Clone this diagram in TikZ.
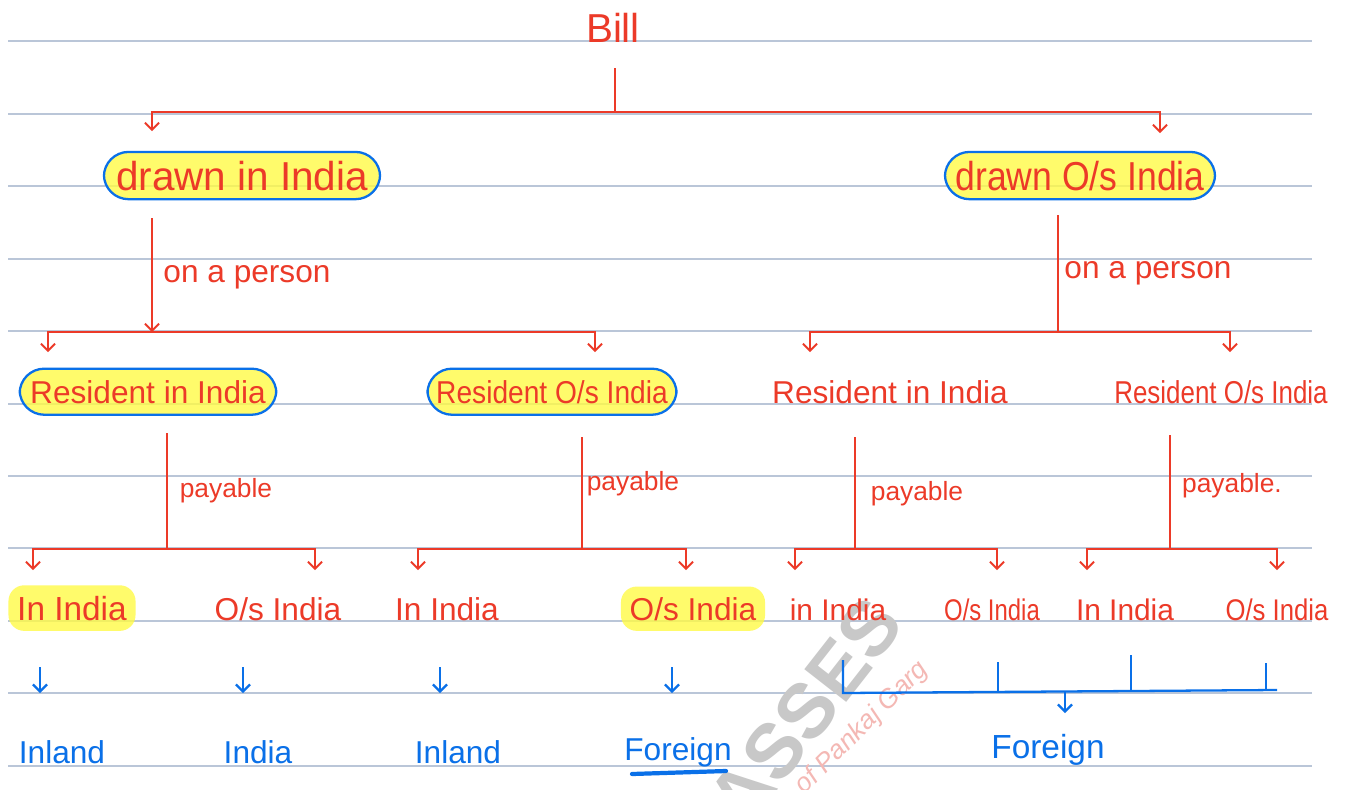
\documentclass[tikz,border=0pt]{standalone}
\usepackage{fontspec}
\setmainfont{Liberation Sans}
\usetikzlibrary{arrows.meta}
\definecolor{ink}{RGB}{236,58,40}
\definecolor{pen}{RGB}{10,112,232}
\definecolor{hl}{RGB}{255,250,70}
\definecolor{ruling}{RGB}{186,198,216}
\definecolor{wmgray}{RGB}{200,200,200}
\definecolor{wmpink}{RGB}{244,184,180}
\newcommand\fsz[1]{\fontsize{#1}{#1}\selectfont}
\newcommand\narrow[1]{\addfontfeatures{FakeStretch=#1}}

\begin{document}
\begin{tikzpicture}[x=0.02cm,y=-0.02cm,
  redtxt/.style={text=ink,inner sep=0pt,anchor=base},
  bluetxt/.style={text=pen,inner sep=0pt,anchor=base,font=\fsz{18}},
  hilite/.style={fill=hl,fill opacity=.8,text opacity=1,rounded corners=9pt,
    inner xsep=5pt,inner ysep=5pt},
  ringed/.style={hilite,draw=pen,draw opacity=1,line width=1.3pt,rounded corners=14pt},
  rline/.style={draw=ink,line width=1.1pt},
  rarr/.style={rline,-{Straight Barb[length=4pt,width=8pt]}},
  bline/.style={draw=pen,line width=1.3pt},
  barr/.style={bline,-{Straight Barb[length=4pt,width=8pt]}},
]
\useasboundingbox[fill=white] (0,0) rectangle (1347,789);

% ruled paper
\foreach \yy in {41,114,186,259,331,404,476,548,621,693,766}
  \draw[ruling,line width=0.7pt] (8,\yy) -- (1312,\yy);

% watermark
\node[text=wmgray,font=\bfseries\fsz{44},rotate=52] (wm1) at (805,712) {ASSES};
\node[text=wmpink,font=\itshape\fsz{15},rotate=45] (wm2) at (862,728) {of Pankaj Garg};

% ---- level 0 ----
\node[redtxt,font=\fsz{23}] (bill) at (613,42) {Bill};

% ---- level 1 ----
\node[redtxt,ringed,font=\fsz{23},inner xsep=7pt] (din) at (242,190) {drawn in India};
\node[redtxt,ringed,font=\fsz{23}\narrow{0.88},inner xsep=6pt] (dout) at (1080,190) {drawn O/s India};

\coordinate (s0) at (615,68);
\coordinate (j0) at (615,112);
\coordinate (a1) at (152,131);
\coordinate (a2) at (1160,133);
\draw[rline] (s0) -- (j0);
\draw[rarr] (j0) -| (a1);
\draw[rarr] (j0) -| (a2);

% ---- level 1 -> level 2 ----
\node[redtxt,font=\fsz{18}] (onp1) at (247,282) {on a person};
\node[redtxt,font=\fsz{18}] (onp2) at (1148,278) {on a person};

\coordinate (l0) at (152,218);
\coordinate (j1) at (152,332);
\coordinate (a3) at (48,352);
\coordinate (a4) at (595,352);
\draw[rarr] (l0) -- (j1);
\draw[rarr] (j1) -| (a3);
\draw[rarr] (j1) -| (a4);

\coordinate (r0) at (1058,215);
\coordinate (j2) at (1058,332);
\coordinate (a5) at (810,352);
\coordinate (a6) at (1230,352);
\draw[rline] (r0) -- (j2);
\draw[rarr] (j2) -| (a5);
\draw[rarr] (j2) -| (a6);

% ---- level 2 ----
\node[redtxt,ringed,font=\fsz{18},inner xsep=6pt,inner ysep=6.5pt] (rin1) at (148,403) {Resident in India};
\node[redtxt,ringed,font=\fsz{18}\narrow{0.89},inner xsep=5pt,inner ysep=6.5pt] (rout1) at (552,403) {Resident O/s India};
\node[redtxt,font=\fsz{18}] (rin2) at (890,403) {Resident in India};
\node[redtxt,font=\fsz{18}\narrow{0.82}] (rout2) at (1221,403) {Resident O/s India};

% ---- level 2 -> level 3 ----
\node[redtxt,font=\fsz{15}] (pay1) at (226,497) {payable};
\node[redtxt,font=\fsz{15}] (pay2) at (633,490) {payable};
\node[redtxt,font=\fsz{15}] (pay3) at (917,500) {payable};
\node[redtxt,font=\fsz{15}] (pay4) at (1232,492) {payable.};

\foreach \n/\xm/\yt/\xl/\xr in {1/167/433/33/315, 2/582/437/418/686, 3/855/437/795/997, 4/1170/435/1087/1277}{
  \coordinate (p\n t) at (\xm,\yt);
  \coordinate (p\n j) at (\xm,549);
  \coordinate (p\n l) at (\xl,570);
  \coordinate (p\n r) at (\xr,570);
  \draw[rline] (p\n t) -- (p\n j);
  \draw[rarr] (p\n j) -| (p\n l);
  \draw[rarr] (p\n j) -| (p\n r);
}

% ---- level 3 ----
\node[redtxt,hilite,font=\fsz{19},inner ysep=6pt] (i1) at (72,620) {In India};
\node[redtxt,font=\fsz{18}] (o1) at (278,620) {O/s India};
\node[redtxt,font=\fsz{18}] (i2) at (447,620) {In India};
\node[redtxt,hilite,font=\fsz{18},inner ysep=6pt] (o2) at (693,620) {O/s India};
\node[redtxt,font=\fsz{17}] (i3) at (838,620) {in India};
\node[redtxt,font=\fsz{17}\narrow{0.8}] (o3) at (992,620) {O/s India};
\node[redtxt,font=\fsz{17}] (i4) at (1125,620) {In India};
\node[redtxt,font=\fsz{17}\narrow{0.86}] (o4) at (1277,620) {O/s India};

% ---- classification ----
\node[bluetxt] (b1) at (62,763) {Inland};
\node[bluetxt] (b2) at (258,763) {India};
\node[bluetxt] (b3) at (458,763) {Inland};
\node[bluetxt] (b4) at (678,760) {Foreign};
\node[bluetxt,font=\fsz{19}] (b5) at (1048,758) {Foreign};

\foreach \n/\xx in {1/40,2/243,3/440,4/672}{
  \coordinate (u\n) at (\xx,667);
  \coordinate (v\n) at (\xx,693);
  \draw[barr] (u\n) -- (v\n);
}

% bracket gathering the four right-hand cases
\coordinate (k1) at (843,660);
\coordinate (k1b) at (843,693);
\coordinate (kend) at (1277,690);
\draw[bline] (k1) -- (k1b) -- (kend);
\foreach \n/\xx/\yy in {2/998/662,3/1131/655,4/1266/663}{
  \coordinate (k\n) at (\xx,\yy);
  \coordinate (k\n b) at (\xx,691);
  \draw[bline] (k\n) -- (k\n b);
}
\coordinate (kj) at (1065,692);
\coordinate (kh) at (1065,713);
\draw[barr] (kj) -- (kh);

% underline under the single foreign case
\coordinate (ul1) at (632,774);
\coordinate (ul2) at (726,771);
\draw[draw=pen,line width=2.4pt,line cap=round] (ul1) -- (ul2);
\end{tikzpicture}
\end{document}
